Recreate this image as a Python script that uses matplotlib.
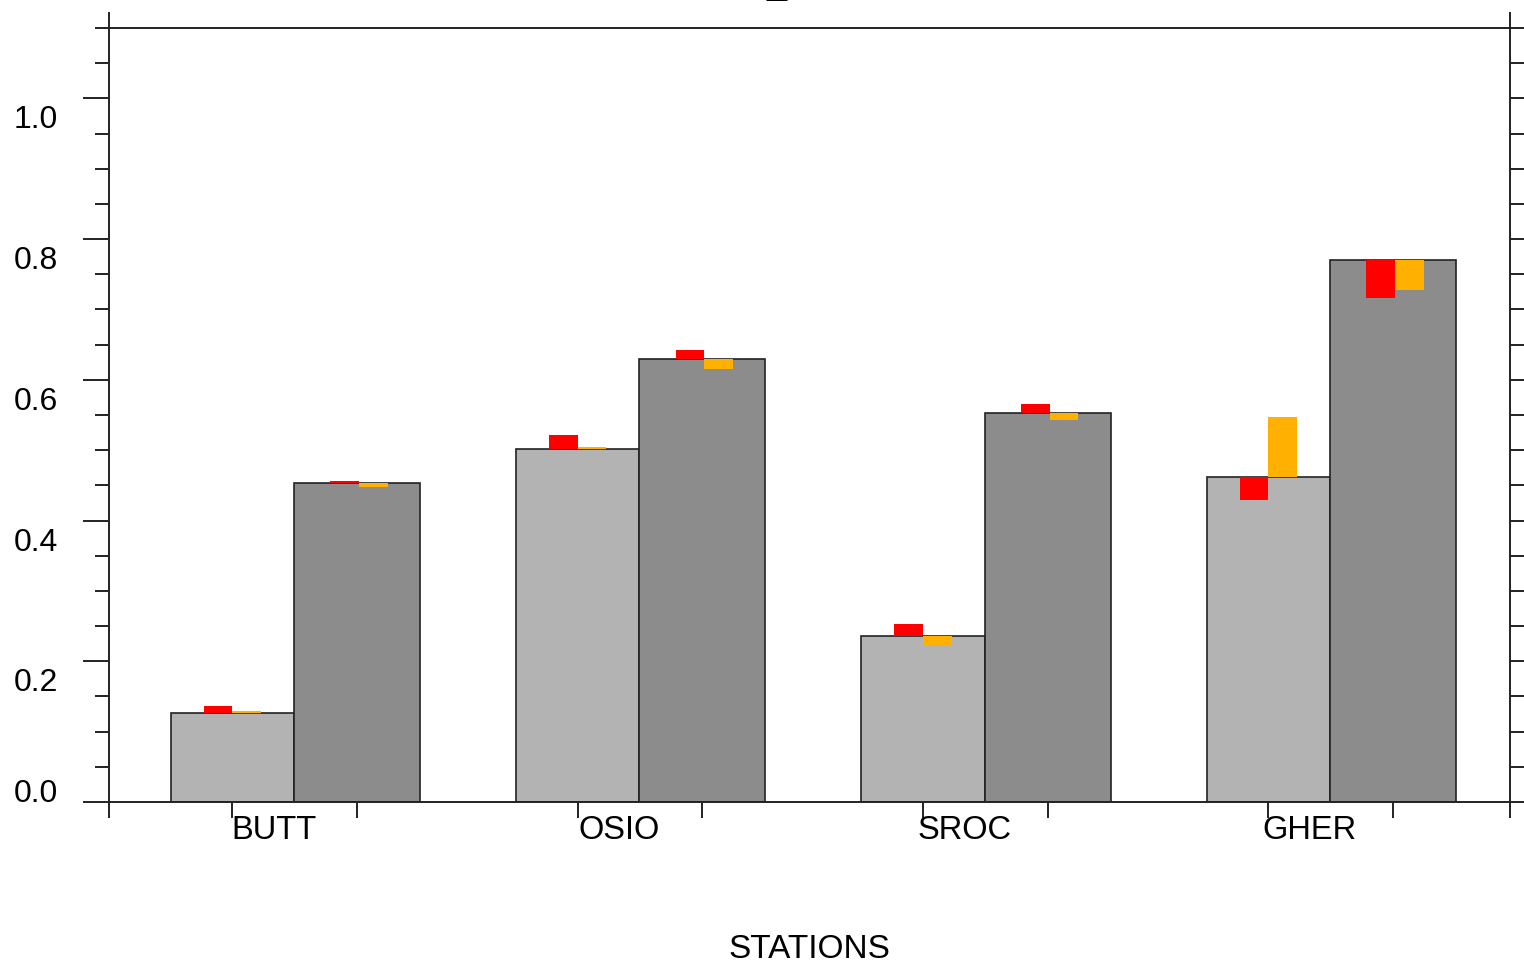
import numpy as np
import matplotlib
matplotlib.use("Agg")
import matplotlib.pyplot as plt

plt.rcParams['font.family'] = ['Liberation Sans', 'DejaVu Sans']

# dados
stations = ["BUTT", "OSIO", "SROC", "GHER"]
light = [0.127, 0.501, 0.236, 0.462]      # barra cinza claro
dark = [0.453, 0.630, 0.553, 0.770]       # barra cinza escuro
light_red = [0.137, 0.522, 0.253, 0.429]
light_orange = [0.130, 0.504, 0.2235, 0.547]
dark_red = [0.4555, 0.643, 0.565, 0.716]
dark_orange = [0.447, 0.6155, 0.5426, 0.727]
yticks = [0.0, 0.2, 0.4, 0.6, 0.8, 1.0]

line_col = "#222222"
fig = plt.figure(figsize=(15.24, 9.65), dpi=100)
ax = fig.add_axes([109/1524, 163/965, 1401/1524, 774/965])

x = np.arange(len(stations))
w1 = 0.357
w2 = 0.365
xl = x - w1/2
xd = x + w2/2

ax.bar(xl, light, width=w1, color="#b3b3b3", edgecolor=line_col, linewidth=1.2, zorder=2)
ax.bar(xd, dark, width=w2, color="#8c8c8c", edgecolor=line_col, linewidth=1.2, zorder=2)

# marcadores vermelho / laranja
mw = 0.083
ax.bar(xl, np.array(light_red) - np.array(light), bottom=light, width=-mw, align="edge",
       color="#ff0000", linewidth=0, zorder=3)
ax.bar(xl, np.array(light_orange) - np.array(light), bottom=light, width=mw, align="edge",
       color="#ffb000", linewidth=0, zorder=3)
ax.bar(xd + 0.006, np.array(dark_red) - np.array(dark), bottom=dark, width=-mw, align="edge",
       color="#ff0000", linewidth=0, zorder=3)
ax.bar(xd + 0.006, np.array(dark_orange) - np.array(dark), bottom=dark, width=mw, align="edge",
       color="#ffb000", linewidth=0, zorder=3)

x0, x1 = -0.5358, 3.5216
ax.set_xlim(x0, x1)
ax.set_ylim(0, 1.1)

for s in ax.spines.values():
    s.set_color(line_col)
    s.set_linewidth(1.4)

# eixo y
ax.set_yticks(yticks)
ax.set_yticks(np.arange(0, 23) * 0.05, minor=True)
ax.set_yticklabels([])
ax.tick_params(axis="y", which="major", direction="out", length=18.7, width=1.4,
               color=line_col, right=True)
ax.tick_params(axis="y", which="minor", direction="out", length=10, width=1.4,
               color=line_col, right=True)
for t in ax.yaxis.get_major_ticks():
    t.tick2line.set_markersize(10)

for v in yticks:
    if v == 0:
        yy = v + 8/704
    else:
        yy = v - 22/704
    ax.text(x0 - 51/345.3, yy, "%.1f" % v, ha="right", va="center", fontsize=23,
            color="black")

# eixo x
ax.set_xticks([x0] + list(np.concatenate([xl, xd])) + [x1])
ax.set_xticklabels([])
ax.tick_params(axis="x", direction="out", length=11.5, width=1.4, color=line_col)
for i, name in enumerate(stations):
    ax.text(x[i] - 0.058, -29/704, name, ha="center", va="center", fontsize=23.5)

ax.set_xlabel("STATIONS", fontsize=24, labelpad=80)

# prolongamento dos eixos verticais acima do topo
for xx in [x0, x1]:
    ax.plot([xx, xx], [1.1, 1.1 + 16/704], color=line_col, lw=1.4, clip_on=False,
            solid_capstyle="butt")

# titulo cortado no topo
fig.text(777/1524, 1 + 5.6/965, "_", ha="center", va="baseline", fontsize=26)

plt.savefig("out.png", dpi=100)
